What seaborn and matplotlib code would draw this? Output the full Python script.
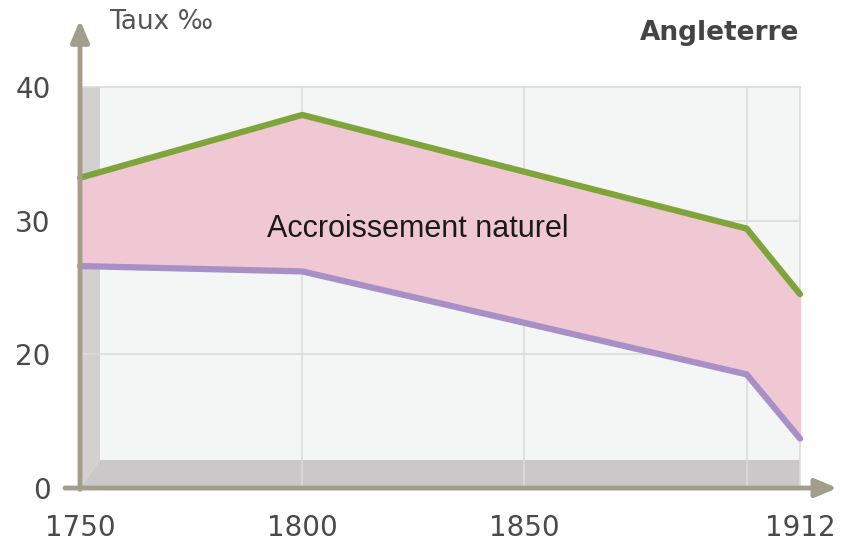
import matplotlib.pyplot as plt
import matplotlib.patches as mpatches
import seaborn as sns
import pandas as pd

# values (taux pour mille)
years = [1750, 1800, 1900, 1912]
natalite = [33.2, 37.9, 29.4, 24.5]
mortalite = [26.6, 26.2, 18.5, 13.7]
# the original axis is broken: "0" sits where 10 would be
ytick_pos = [10, 20, 30, 40]
ytick_lab = ['0', '20', '30', '40']
xtick_pos = [1750, 1800, 1850, 1912]
grid_years = [1800, 1850, 1900, 1912]

df = pd.DataFrame({'annee': years, 'natalite': natalite, 'mortalite': mortalite})

sns.set_style('white')
plt.rcParams['font.family'] = ['DejaVu Sans']

fig = plt.figure(figsize=(8.59, 5.58), dpi=100)
ax = fig.add_axes([0.0815, 0.1129, 0.8964, 0.8513])
ax.set_xlim(1747.75, 1921)
ax.set_ylim(9.48, 45.0)

axis_col = '#a39d8c'
grid_col = '#dcdcdc'

# pseudo 3D background box
ax.add_patch(mpatches.Rectangle((1750, 10), 162, 30, facecolor='#f4f5f5', edgecolor='none', zorder=0))
ax.add_patch(mpatches.Polygon([(1750, 10), (1750, 40), (1754.5, 40), (1754.5, 12.1)],
                              facecolor='#d3d0d0', edgecolor='none', zorder=0.5))
ax.add_patch(mpatches.Polygon([(1750, 10), (1754.5, 12.1), (1912, 12.1), (1912, 10)],
                              facecolor='#cbc8ca', edgecolor='none', zorder=0.5))

for y in [20, 30, 40]:
    ax.plot([1750, 1912], [y, y], color=grid_col, lw=1.2, zorder=0.6)
for x in grid_years:
    ax.plot([x, x], [10, 40], color=grid_col, lw=1.2, zorder=0.6)

ax.fill_between(df['annee'], df['mortalite'], df['natalite'], color='#f0c8d3', zorder=1)
sns.lineplot(data=df, x='annee', y='natalite', color='#7ea539', lw=4.5, ax=ax, zorder=2)
sns.lineplot(data=df, x='annee', y='mortalite', color='#a890c6', lw=4.5, ax=ax, zorder=2)

# axis arrows
ax.annotate('', xy=(1921, 10), xytext=(1746, 10),
            arrowprops=dict(arrowstyle='-|>,head_length=1.3,head_width=0.55', color=axis_col, lw=3.5),
            annotation_clip=False)
ax.annotate('', xy=(1750, 45.2), xytext=(1750, 9.7),
            arrowprops=dict(arrowstyle='-|>,head_length=1.3,head_width=0.55', color=axis_col, lw=3.5),
            annotation_clip=False)

for s in ax.spines.values():
    s.set_visible(False)

ax.set_xticks(xtick_pos)
ax.set_xticklabels([str(v) for v in xtick_pos])
ax.set_yticks(ytick_pos)
ax.set_yticklabels(ytick_lab)
ax.tick_params(axis='x', length=0, pad=14, labelsize=20, labelcolor='#4a4a4a')
ax.tick_params(axis='y', length=0, pad=14, labelsize=20, labelcolor='#4a4a4a')
ax.set_xlabel('')
ax.set_ylabel('')

ax.text(1792, 29.4, 'Accroissement naturel', fontsize=22, color='#1a1a1a',
        family=['Liberation Sans'], va='center', zorder=3)
fig.text(0.127, 0.96, 'Taux ‰', fontsize=19, color='#555555', va='center')
fig.text(0.93, 0.94, 'Angleterre', fontsize=19, fontweight='bold', color='#444444',
         va='center', ha='right')

fig.savefig('out.png', dpi=100)
plt.close()
